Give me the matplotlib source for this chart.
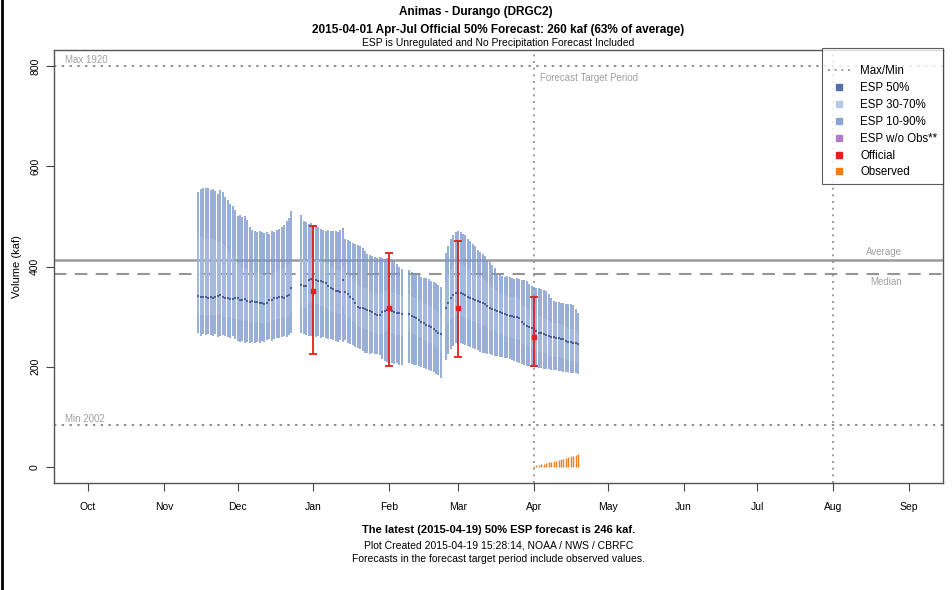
import numpy as np
import matplotlib
matplotlib.use('Agg')
import matplotlib.pyplot as plt
from matplotlib.lines import Line2D

plt.rcParams['font.family'] = ['Liberation Sans', 'DejaVu Sans']

# x axis = days since 2014-10-01
month_days = [0, 31, 61, 92, 123, 151, 182, 212, 243, 273, 304, 335]
month_labels = ['Oct', 'Nov', 'Dec', 'Jan', 'Feb', 'Mar', 'Apr', 'May', 'Jun', 'Jul', 'Aug', 'Sep']

# ESP traces, one list per run of consecutive days
seg_start = [45, 87, 131, 146]
esp_p90 = [
    [548, 555, 557, 556, 557, 553, 555, 550, 545, 552, 548, 538, 533, 525, 520, 512, 500, 502, 498, 500,
     492, 478, 472, 470, 468, 470, 468, 466, 468, 465, 470, 468, 472, 474, 478, 482, 490, 496, 510],
    [503, 490, 488, 485, 487, 482, 480, 478, 475, 472, 470, 472, 470, 471, 470, 468, 473, 477, 455, 452,
     450, 447, 445, 443, 440, 437, 430, 425, 422, 420, 418, 417, 418, 416, 414, 417, 415, 413, 410, 405,
     400, 395],
    [393, 390, 387, 385, 383, 380, 378, 377, 375, 372, 370, 367, 363, 360],
    [427, 440, 455, 462, 468, 470, 468, 465, 462, 455, 450, 445, 440, 432, 428, 425, 420, 412, 408, 402,
     398, 385, 383, 382, 380, 381, 379, 378, 376, 377, 375, 374, 373, 372, 365, 362, 360, 358, 357, 355,
     354, 352, 345, 338, 332, 330, 329, 328, 327, 326, 325, 325, 323, 315, 307],
]
esp_p70 = [
    [455, 458, 457, 456, 455, 457, 454, 452, 450, 448, 445, 440, 432, 425, 418, 410, 405, 402, 400, 398,
     395, 392, 390, 388, 387, 386, 385, 384, 385, 386, 388, 390, 392, 394, 396, 398, 400, 402, 408],
    [420, 415, 412, 415, 416, 415, 413, 412, 410, 408, 406, 404, 400, 398, 396, 394, 393, 400, 388, 385,
     380, 375, 370, 365, 362, 360, 358, 355, 352, 350, 348, 346, 345, 350, 352, 353, 352, 350, 348, 346,
     344, 342],
    [345, 342, 340, 337, 334, 331, 328, 325, 322, 319, 316, 312, 308, 304],
    [370, 385, 395, 402, 406, 408, 406, 403, 400, 396, 392, 389, 386, 383, 380, 377, 374, 368, 362, 358,
     354, 350, 348, 346, 344, 342, 340, 339, 338, 337, 336, 328, 322, 318, 315, 313, 310, 306, 302, 300,
     298, 296, 293, 290, 288, 287, 286, 285, 284, 281, 278, 276, 275, 273, 270],
]
esp_p50 = [
    [342, 340, 339, 339, 338, 339, 338, 340, 342, 344, 340, 338, 337, 336, 335, 337, 338, 334, 333, 335,
     332, 330, 331, 330, 329, 328, 327, 326, 328, 333, 334, 337, 338, 340, 339, 338, 342, 344, 357],
    [364, 362, 361, 373, 375, 374, 373, 372, 371, 370, 368, 362, 357, 355, 352, 351, 350, 373, 350, 345,
     340, 335, 328, 320, 318, 317, 316, 314, 312, 309, 306, 304, 304, 310, 312, 313, 312, 311, 309, 307,
     307, 306],
    [305, 302, 300, 297, 294, 290, 287, 284, 281, 279, 276, 272, 268, 265],
    [317, 328, 338, 344, 347, 348, 347, 345, 343, 340, 338, 336, 334, 332, 330, 328, 326, 322, 318, 316,
     314, 312, 310, 308, 306, 304, 302, 301, 300, 299, 298, 290, 285, 281, 279, 277, 275, 271, 268, 267,
     266, 264, 262, 260, 259, 258, 257, 256, 255, 252, 250, 249, 248, 247, 246],
]
esp_p30 = [
    [305, 303, 304, 302, 303, 304, 302, 303, 305, 304, 302, 300, 299, 298, 297, 296, 295, 293, 292, 293,
     291, 290, 289, 288, 289, 288, 287, 286, 288, 290, 291, 293, 295, 296, 297, 298, 300, 302, 310],
    [320, 318, 317, 325, 327, 326, 325, 324, 322, 320, 318, 315, 312, 310, 308, 306, 305, 320, 303, 300,
     296, 292, 287, 282, 279, 277, 275, 273, 271, 269, 267, 265, 264, 268, 270, 271, 270, 268, 266, 264,
     263, 262],
    [270, 268, 266, 263, 260, 257, 254, 251, 248, 246, 243, 240, 236, 232],
    [275, 285, 293, 298, 301, 302, 301, 299, 297, 295, 293, 291, 289, 287, 285, 283, 281, 278, 275, 272,
     270, 268, 266, 264, 262, 260, 258, 257, 256, 255, 254, 248, 244, 241, 239, 237, 235, 232, 229, 228,
     227, 225, 224, 222, 221, 220, 219, 218, 217, 215, 213, 212, 211, 210, 209],
]
esp_p10 = [
    [268, 262, 265, 263, 266, 264, 262, 265, 260, 262, 264, 262, 260, 258, 262, 255, 252, 250, 252, 248,
     250, 248, 250, 247, 250, 248, 252, 250, 253, 255, 252, 256, 258, 257, 260, 262, 260, 264, 268],
    [267, 265, 263, 262, 261, 262, 260, 262, 258, 260, 257, 256, 255, 254, 252, 250, 253, 250, 253, 248,
     245, 243, 240, 238, 235, 232, 228, 227, 226, 227, 225, 226, 224, 215, 212, 210, 208, 207, 205, 207,
     204, 203],
    [207, 205, 204, 203, 202, 200, 198, 196, 194, 192, 190, 186, 183, 178],
    [213, 225, 235, 242, 247, 248, 247, 245, 243, 242, 240, 238, 236, 233, 230, 228, 227, 226, 225, 224,
     222, 221, 220, 219, 218, 217, 216, 214, 212, 210, 208, 206, 204, 202, 201, 200, 200, 199, 198, 197,
     196, 195, 195, 194, 193, 193, 192, 191, 190, 190, 189, 188, 188, 187, 186],
]

# official forecasts (first of month)
official_days = [92, 123, 151, 182]
official_50 = [351, 317, 318, 260]
official_10 = [225, 201, 220, 202]
official_90 = [481, 427, 451, 340]

# observed volume since Apr 1
obs_start = 182
observed = [2, 3, 4, 5, 6, 7, 9, 10, 11, 12, 13, 15, 16, 18, 19, 21, 22, 24, 25]

max_val, min_val = 800, 83
avg_val, med_val = 413, 385
target_start, target_end = 182, 304

c1090 = '#7b97cd'
c3070 = '#a9bde2'
c50 = '#4a5e9c'
c_off = '#e3201c'
c_obs = '#f07c1c'
c_ref = '#9a9a9a'

fig = plt.figure(figsize=(9.52, 5.90), dpi=100)
ax = fig.add_axes([54 / 952, 107 / 590, 889 / 952, 433 / 590])

# reference lines
ax.axhline(max_val, color='#8c8c8c', lw=1.4, ls=(0, (1.2, 2.8)))
ax.axhline(min_val, color='#8c8c8c', lw=1.4, ls=(0, (1.2, 2.8)))
ax.axhline(avg_val, color=c_ref, lw=1.8)
ax.axhline(med_val, color='#959595', lw=1.5, ls=(0, (6, 4)))
ax.axvline(target_start, color='#8c8c8c', lw=1.2, ls=(0, (1.2, 2.8)))
ax.axvline(target_end, color='#8c8c8c', lw=1.2, ls=(0, (1.2, 2.8)))

# ESP bars
for s, lo, hi in zip(seg_start, esp_p10, esp_p90):
    d = np.arange(s, s + len(lo))
    ax.vlines(d, lo, hi, color=c1090, lw=1.1)
for s, lo, hi in zip(seg_start, esp_p30, esp_p70):
    d = np.arange(s, s + len(lo))
    ax.vlines(d, lo, hi, color=c3070, lw=1.1)
for s, mid in zip(seg_start, esp_p50):
    d = np.arange(s, s + len(mid))
    ax.plot(d, mid, 's', ms=1.8, mew=0, color=c50)

# observed
od = np.arange(obs_start, obs_start + len(observed))
ax.vlines(od, 0, observed, color=c_obs, lw=1.0)

# official
o50 = np.array(official_50)
ax.errorbar(official_days, official_50,
            yerr=[o50 - np.array(official_10), np.array(official_90) - o50],
            fmt='s', color=c_off, ms=3.5, elinewidth=1.3, capsize=3, capthick=1.3)

# labels on reference lines
ax.text(-9.5, 803, 'Max 1920', fontsize=7, color='#a0a0a0', va='bottom')
ax.text(-9.5, 86, 'Min 2002', fontsize=7, color='#a0a0a0', va='bottom')
ax.text(332, 418, 'Average', fontsize=7, color='#a0a0a0', va='bottom', ha='right')
ax.text(332, 380, 'Median', fontsize=7, color='#a0a0a0', va='top', ha='right')
ax.text(184.5, 776, 'Forecast Target Period', fontsize=7, color='#a0a0a0', va='center')

ax.set_xlim(-13.9, 348.9)
ax.set_ylim(-32, 832)
ax.set_xticks(month_days)
ax.set_xticklabels(month_labels)
ax.set_yticks([0, 200, 400, 600, 800])
ax.set_yticklabels(['0', '200', '400', '600', '800'], rotation=90, va='center')
ax.tick_params(direction='out', length=6, width=0.8, color='#444444', labelsize=7.5, pad=8)
ax.tick_params(axis='y', pad=4)
for sp in ax.spines.values():
    sp.set_color('#555555')
    sp.set_linewidth(1.0)
ax.set_ylabel('Volume (kaf)', fontsize=8, labelpad=6)

handles = [
    Line2D([], [], color='#8c8c8c', lw=1.2, ls=(0, (1.2, 2.8))),
    Line2D([], [], marker='s', ls='', color='#5a6ea8', ms=5),
    Line2D([], [], marker='s', ls='', color='#b6c8e6', ms=5),
    Line2D([], [], marker='s', ls='', color='#8aa3d3', ms=5),
    Line2D([], [], marker='s', ls='', color='#b07cc8', ms=5),
    Line2D([], [], marker='s', ls='', color=c_off, ms=5),
    Line2D([], [], marker='s', ls='', color=c_obs, ms=5),
]
labels = ['Max/Min', 'ESP 50%', 'ESP 30-70%', 'ESP 10-90%', 'ESP w/o Obs**', 'Official', 'Observed']
leg = ax.legend(handles, labels, loc='upper right', bbox_to_anchor=(1.0, 1.005), borderaxespad=0,
                fontsize=8.3, frameon=True, fancybox=False, handlelength=2.0, handletextpad=0.8,
                labelspacing=0.42, borderpad=0.5, title=' ', title_fontsize=5)
leg.get_frame().set_edgecolor('#333333')
leg.get_frame().set_linewidth(0.8)

# titles
xc = (54 + 943) / 2 / 952
fig.text(0.5, 1 - 12 / 590, 'Animas - Durango (DRGC2)', ha='center', va='center',
         fontsize=8.5, fontweight='bold')
fig.text(xc, 1 - 30 / 590, '2015-04-01 Apr-Jul Official 50% Forecast: 260 kaf (63% of average)',
         ha='center', va='center', fontsize=8.5, fontweight='bold')
fig.text(xc, 1 - 43 / 590, 'ESP is Unregulated and No Precipitation Forecast Included',
         ha='center', va='center', fontsize=7.5)
fig.text(xc, 1 - 530 / 590, 'The latest (2015-04-19) 50% ESP forecast is 246 kaf.',
         ha='center', va='center', fontsize=8, fontweight='bold')
fig.text(xc, 1 - 545 / 590, 'Plot Created 2015-04-19 15:28:14, NOAA / NWS / CBRFC',
         ha='center', va='center', fontsize=7.5)
fig.text(xc, 1 - 559 / 590, 'Forecasts in the forecast target period include observed values.',
         ha='center', va='center', fontsize=7.5)

# left border of the original frame
fig.add_artist(Line2D([0.002, 0.002], [0, 1], color='black', lw=2, transform=fig.transFigure))

fig.savefig('out.png', dpi=100)
